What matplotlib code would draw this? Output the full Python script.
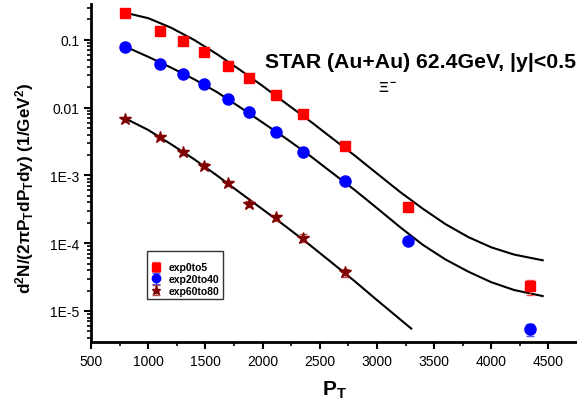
import numpy as np
import matplotlib
matplotlib.use("Agg")
import matplotlib.pyplot as plt
from matplotlib.ticker import LogLocator, FixedLocator, NullFormatter

plt.rcParams['font.family'] = ['Liberation Sans', 'DejaVu Sans']
plt.rcParams['mathtext.fontset'] = 'custom'
plt.rcParams['mathtext.rm'] = 'Liberation Sans:bold'
plt.rcParams['mathtext.it'] = 'Liberation Sans:bold'
plt.rcParams['mathtext.bf'] = 'Liberation Sans:bold'

# ---------------- data ----------------
pt_0to5 = [800, 1100, 1300, 1490, 1700, 1880, 2115, 2350, 2717, 3275, 4340]
y_0to5 = [0.25, 0.136, 0.097, 0.0665, 0.0413, 0.0275, 0.0154, 0.0081, 0.0027, 3.4e-4, 2.3e-5]
err_0to5 = [0, 0, 0, 0, 0, 0, 0, 0, 0, 0, 0.6e-5]

pt_20to40 = [800, 1100, 1300, 1490, 1700, 1880, 2115, 2350, 2717, 3275, 4340]
y_20to40 = [0.079, 0.044, 0.0315, 0.0224, 0.0135, 0.0087, 0.0044, 0.0022, 8.3e-4, 1.07e-4, 5.4e-6]
err_20to40 = [0, 0, 0, 0, 0, 0, 0, 0, 0, 0, 1.1e-6]

pt_60to80 = [800, 1100, 1300, 1490, 1700, 1880, 2115, 2350, 2717]
y_60to80 = [0.0067, 0.0037, 0.0022, 0.0014, 7.7e-4, 3.8e-4, 2.4e-4, 1.2e-4, 3.7e-5]
err_60to80 = [0.0006, 0.0003, 0.00018, 0.00012, 0.6e-4, 0.4e-4, 0.25e-4, 0.15e-4, 0.5e-5]

# fit curves
pt_fit = [800, 1000, 1200, 1400, 1600, 1800, 2000, 2200, 2400, 2600,
          2800, 3000, 3200, 3400, 3600, 3800, 4000, 4200, 4450]
fit_0to5 = [0.251, 0.209, 0.151, 0.100, 0.0617, 0.0363, 0.0209, 0.0117, 0.00661, 0.00363,
            0.00200, 0.00107, 5.75e-4, 3.24e-4, 1.91e-4, 1.23e-4, 8.7e-5, 6.8e-5, 5.6e-5]
fit_20to40 = [0.0794, 0.0562, 0.0389, 0.0263, 0.0170, 0.0102, 0.00603, 0.00355, 0.00204, 0.00112,
              6.2e-4, 3.3e-4, 1.74e-4, 9.5e-5, 5.75e-5, 3.8e-5, 2.66e-5, 2.04e-5, 1.66e-5]
pt_fit60 = [800, 1000, 1200, 1400, 1600, 1800, 2000, 2200, 2400, 2600, 2800, 3000, 3200, 3300]
fit_60to80 = [0.00692, 0.00468, 0.00288, 0.00174, 1.0e-3, 5.6e-4, 3.16e-4, 1.78e-4, 9.8e-5,
              5.25e-5, 2.8e-5, 1.45e-5, 7.6e-6, 5.5e-6]

# ---------------- plot ----------------
fig = plt.figure(figsize=(5.77, 4.06), dpi=100)
ax = fig.add_axes([0.158, 0.155, 0.842, 0.833])

ax.plot(pt_fit, fit_0to5, color='k', lw=1.5, zorder=2)
ax.plot(pt_fit, fit_20to40, color='k', lw=1.5, zorder=2)
ax.plot(pt_fit60, fit_60to80, color='k', lw=1.5, zorder=2)

ax.errorbar(pt_0to5, y_0to5, yerr=err_0to5, fmt='s', color='#ff0000', ms=7.5,
            ecolor='#ff5555', elinewidth=1, capsize=3, label='exp0to5', zorder=3)
ax.errorbar(pt_20to40, y_20to40, yerr=err_20to40, fmt='o', color='#0000ff', ms=8,
            ecolor='#5555ff', elinewidth=1, capsize=3, label='exp20to40', zorder=3)
ax.errorbar(pt_60to80, y_60to80, yerr=err_60to80, fmt='*', color='#800000', ms=9,
            ecolor='#b05050', elinewidth=1, capsize=3, label='exp60to80', zorder=3)

ax.set_yscale('log')
ax.set_xlim(500, 4750)
ax.set_ylim(3.48e-6, 0.34)

ax.set_xticks([500, 1000, 1500, 2000, 2500, 3000, 3500, 4000, 4500])
ax.xaxis.set_minor_locator(FixedLocator(np.arange(750, 4750, 500)))
ax.set_yticks([1e-5, 1e-4, 1e-3, 0.01, 0.1])
ax.set_yticklabels(['1E-5', '1E-4', '1E-3', '0.01', '0.1'])
ax.yaxis.set_minor_locator(LogLocator(base=10, subs=np.arange(2, 10)))
ax.yaxis.set_minor_formatter(NullFormatter())

for s in ['top', 'right']:
    ax.spines[s].set_visible(False)
for s in ['left', 'bottom']:
    ax.spines[s].set_linewidth(2)
ax.tick_params(which='major', direction='out', length=5, width=1.5, labelsize=10)
ax.tick_params(which='minor', direction='out', length=3, width=1.2)

ax.set_xlabel(r'P$_T$', fontsize=15, fontweight='bold', labelpad=8)
ax.set_ylabel(r'd$^2$N/(2$\pi$P$_T$dP$_T$dy) (1/GeV$^2$)', fontsize=12.3,
              fontweight='bold')
ax.yaxis.set_label_coords(-0.114, 0.456)

ax.text(0.998, 0.831, 'STAR (Au+Au) 62.4GeV, |y|<0.5', transform=ax.transAxes,
        ha='right', va='center', fontsize=15.3, fontweight='bold')
ax.text(0.611, 0.754, r'$\Xi^-$', transform=ax.transAxes, ha='center', va='center',
        fontsize=11)

leg = ax.legend(loc='upper left', bbox_to_anchor=(0.115, 0.27), title=' ',
                fontsize=7.5, title_fontsize=6, frameon=True, fancybox=False,
                edgecolor='k', handletextpad=0.6, borderpad=0.3, labelspacing=0.15,
                handlelength=1.2, borderaxespad=0, markerscale=0.75)
leg.get_frame().set_linewidth(1)
for t in leg.get_texts():
    t.set_fontweight('bold')

fig.savefig('out.png', dpi=100)
